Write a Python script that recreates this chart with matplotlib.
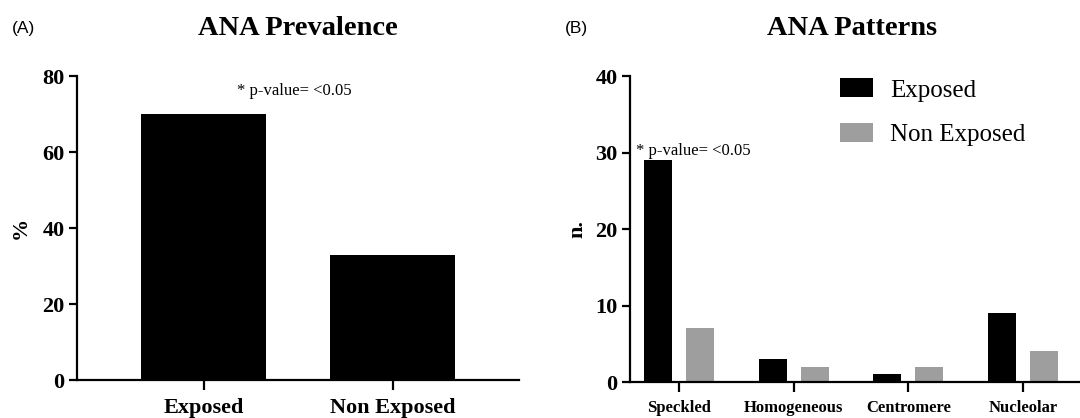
import numpy as np
import matplotlib
matplotlib.use("Agg")
import matplotlib.pyplot as plt

plt.rcParams['font.family'] = ['Liberation Serif', 'DejaVu Serif']

# panel A data
prev_groups = ["Exposed", "Non Exposed"]
prev_values = [70, 33]

# panel B data
patterns = ["Speckled", "Homogeneous", "Centromere", "Nucleolar"]
exposed_n = [29, 3, 1, 9]
non_exposed_n = [7, 2, 2, 4]

fig = plt.figure(figsize=(10.8, 4.18), dpi=100)

# ---- panel A
axA = fig.add_axes([0.0713, 0.0909, 0.4097, 0.727])
xa = np.arange(len(prev_groups))
axA.bar(xa, prev_values, width=0.66, color='black')
axA.set_xlim(-0.67, 1.67)
axA.set_ylim(0, 80)
axA.set_yticks([0, 20, 40, 60, 80])
axA.set_xticks(xa)
axA.set_xticklabels(prev_groups, fontsize=16, fontweight='bold')
axA.set_ylabel('%', fontsize=16, fontweight='bold', labelpad=8)
axA.text(0.49, 0.95, '* p-value= <0.05', transform=axA.transAxes, ha='center',
         va='center', fontsize=12)

# ---- panel B
axB = fig.add_axes([0.5833, 0.0861, 0.4167, 0.7320])
xb = np.arange(len(patterns))
off = 0.185
w = 0.245
axB.bar(xb - off, exposed_n, width=w, color='black', label='Exposed')
axB.bar(xb + off, non_exposed_n, width=w, color='#9e9e9e', label='Non Exposed')
axB.set_xlim(-0.43, 3.5)
axB.set_ylim(0, 40)
axB.set_yticks([0, 10, 20, 30, 40])
axB.set_xticks(xb)
axB.set_xticklabels(patterns, fontsize=12, fontweight='bold')
axB.set_ylabel('n.', fontsize=16, fontweight='bold', labelpad=6)
axB.text(-0.38, 30.2, '* p-value= <0.05', ha='left', va='center', fontsize=12)
axB.legend(loc='upper left', bbox_to_anchor=(0.417, 1.066), frameon=False,
           fontsize=18, handlelength=1.3, handleheight=0.8, labelspacing=0.85,
           handletextpad=0.7)

for ax in (axA, axB):
    for s in ('top', 'right'):
        ax.spines[s].set_visible(False)
    for s in ('left', 'bottom'):
        ax.spines[s].set_linewidth(1.6)
    ax.tick_params(axis='y', direction='out', length=6, width=1.6,
                   labelsize=16, pad=3)
    ax.tick_params(axis='x', direction='out', length=7, width=1.6, pad=6)
    for lab in ax.get_yticklabels():
        lab.set_fontweight('bold')

fig.text(0.276, 0.933, 'ANA Prevalence', ha='center', va='center',
         fontsize=20.5, fontweight='bold')
fig.text(0.789, 0.933, 'ANA Patterns', ha='center', va='center',
         fontsize=20.5, fontweight='bold')
fig.text(0.011, 0.933, '(A)', fontsize=12.5, family='Liberation Sans', va='center')
fig.text(0.523, 0.933, '(B)', fontsize=12.5, family='Liberation Sans', va='center')

fig.savefig('out.png', dpi=100)
